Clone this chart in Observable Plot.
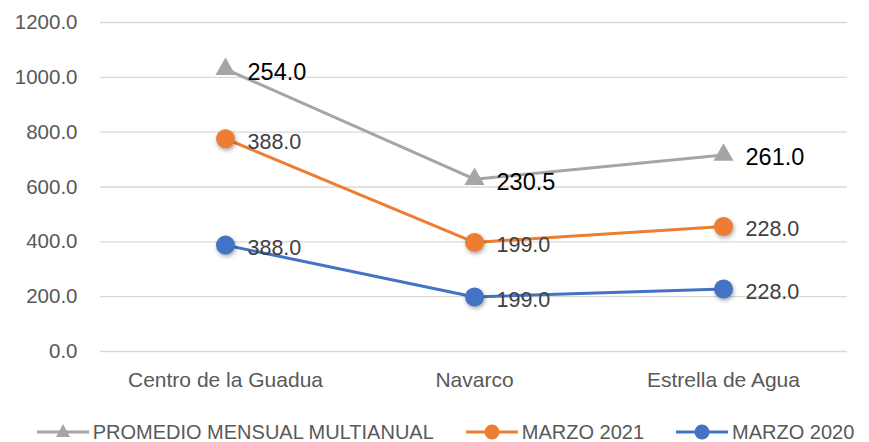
<!DOCTYPE html>
<html>
<head>
<meta charset="utf-8">
<script src="https://cdn.jsdelivr.net/npm/d3@7"></script>
<script src="https://cdn.jsdelivr.net/npm/@observablehq/plot@0.6"></script>
<style>
  html, body { margin: 0; padding: 0; background: #fff; }
  body { width: 869px; height: 442px; overflow: hidden; font-family: "Liberation Sans", "Noto Sans", sans-serif; }
  #chart svg { display: block; }
  .shadow circle { filter: drop-shadow(1px 2px 2px rgba(0,0,0,0.35)); }
  #legend { display: flex; justify-content: center; align-items: center; height: 30px; margin-top: 12px; gap: 32px; color: #595959; font-size: 20px; padding-left: 22px; white-space: nowrap; }
  #legend .item { display: flex; align-items: center; gap: 4px; flex: none; }
  #legend svg { display: block; }
</style>
</head>
<body>
<div id="chart"></div>
<div id="legend"></div>
<script>
const categories = ["Centro de la Guadua", "Navarco", "Estrella de Agua"];
const seriesNames = ["MARZO 2020", "MARZO 2021", "PROMEDIO MENSUAL MULTIANUAL"];
const marzo2020 = [388.0, 199.0, 228.0];
const marzo2021 = [388.0, 199.0, 228.0];
const promedio = [254.0, 230.5, 261.0];
const yTicks = [0, 200, 400, 600, 800, 1000, 1200];
const colors = ["#4472C4", "#ED7D31", "#A5A5A5"];

const seriesValues = [marzo2020, marzo2021, promedio];
const data = [];
seriesNames.forEach((s, i) => categories.forEach((c, j) => data.push({series: s, cat: c, value: seriesValues[i][j]})));

const PROM = "PROMEDIO MENSUAL MULTIANUAL";
const stackOpts = {x: "cat", y: "value", z: "series", order: seriesNames};

const chart = Plot.plot({
  width: 869,
  height: 405,
  marginLeft: 100,
  marginRight: 22,
  marginTop: 22,
  marginBottom: 54,
  style: {fontFamily: "Liberation Sans, Noto Sans, sans-serif", background: "#fff"},
  x: {type: "point", domain: categories, padding: 0.5, label: null},
  y: {domain: [0, 1200], ticks: yTicks, label: null},
  color: {domain: seriesNames, range: colors},
  opacity: {type: "identity"},
  marks: [
    Plot.gridY(yTicks, {stroke: "#d9d9d9", strokeOpacity: 1, strokeWidth: 1.3}),
    Plot.axisY(yTicks, {tickSize: 0, tickPadding: 23, tickFormat: d => d.toFixed(1), fontSize: 20.5, fill: "#595959", label: null}),
    Plot.axisX({tickSize: 0, tickPadding: 21, fontSize: 21, fill: "#595959", label: null}),
    Plot.lineY(data, Plot.stackY2({...stackOpts, stroke: "series", strokeWidth: 3})),
    Plot.dot(data, Plot.stackY2({...stackOpts, symbol: "triangle", r: 7.5, fill: "series", stroke: "none",
      fillOpacity: d => d.series === PROM ? 1 : 0})),
    Plot.dot(data, Plot.stackY2({...stackOpts, r: 9.5, fill: "series", stroke: "none",
      fillOpacity: d => d.series === PROM ? 0 : 1, className: "shadow"})),
    Plot.text(data, Plot.stackY2({...stackOpts, text: d => d.value.toFixed(1), textAnchor: "start", dx: 22, dy: 3,
      fontSize: d => d.series === PROM ? 23.5 : 21.5,
      fill: d => d.series === PROM ? "#000000" : "#404040"}))
  ]
});
document.getElementById("chart").appendChild(chart);

// Legend
const legend = document.getElementById("legend");
[2, 1, 0].forEach(i => {
  const item = document.createElement("div");
  item.className = "item";
  const sym = i === 2
    ? `<path d="M26,2 L33,15 L19,15 Z" fill="${colors[i]}"/>`
    : `<circle cx="26" cy="10" r="7.5" fill="${colors[i]}"/>`;
  item.innerHTML = `<svg width="52" height="20"><line x1="0" x2="52" y1="10" y2="10" stroke="${colors[i]}" stroke-width="3"/>${sym}</svg><span>${seriesNames[i]}</span>`;
  legend.appendChild(item);
});
</script>
</body>
</html>
